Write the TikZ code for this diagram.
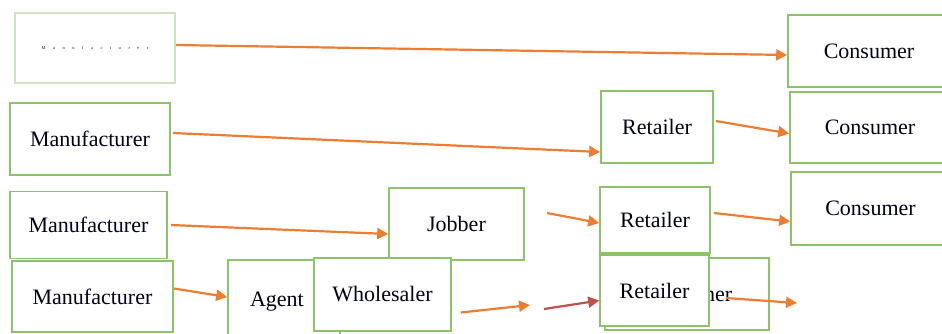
\documentclass[tikz,border=0pt]{standalone}
\usepackage{fontspec}
\setmainfont{Liberation Serif}
\usetikzlibrary{arrows.meta}
\definecolor{boxgreen}{HTML}{8CC26A}
\definecolor{palegreen}{HTML}{CFE4BE}
\definecolor{arrorange}{HTML}{ED7D31}
\definecolor{arrred}{HTML}{C0504D}
\tikzset{
  box/.style={draw=boxgreen, line width=1.6pt, fill=white, inner sep=0pt,
    font=\fontsize{22}{25}\selectfont, text=black!90!blue},
  palebox/.style={box, draw=palegreen},
  flow/.style={draw=arrorange, line width=2.2pt, -{Triangle[length=11pt,width=11pt]}},
  redflow/.style={flow, draw=arrred}
}
\begin{document}
\begin{tikzpicture}[x=1pt,y=-1pt]
\useasboundingbox (0,0) rectangle (942,333);
\clip (0,0) rectangle (942,333);
% row 1
\node[palebox, minimum width=160pt, minimum height=70pt] (m1) at (95,48)
  {\fontsize{4.5}{4.5}\selectfont\color{black!70!red}M\hskip7.5pt a\hskip7.5pt n\hskip7.5pt u\hskip7.5pt f\hskip7.5pt a\hskip7.5pt c\hskip7.5pt t\hskip7.5pt u\hskip7.5pt r\hskip7.5pt e\hskip7.5pt r};
\node[box, minimum width=162pt, minimum height=72pt] (c1) at (869,51) {Consumer};
% row 2
\node[box, minimum width=160pt, minimum height=72pt] (m2) at (90,139) {Manufacturer};
\node[box, minimum width=112pt, minimum height=72pt] (r2) at (657,127) {Retailer};
\node[box, minimum width=160pt, minimum height=71pt] (c2) at (870,127.5) {Consumer};
% row 3
\node[box, minimum width=157pt, minimum height=67pt] (m3) at (88.5,225) {Manufacturer};
\node[box, minimum width=135pt, minimum height=72pt] (jb) at (456.5,224) {Jobber};
\node[box, minimum width=110pt, minimum height=66pt] (r3) at (655,220) {Retailer};
\node[box, minimum width=159pt, minimum height=73pt] (c3) at (870.5,208.5) {Consumer};
% row 4
\node[box, minimum width=161pt, minimum height=71pt] (m4) at (92.5,296.5) {Manufacturer};
\node[box, minimum width=112pt, minimum height=84pt, text width=112pt, align=left] (ag) at (284,302)
  {\hspace*{22pt}Agent};
\node[box, minimum width=137pt, minimum height=73pt] (wh) at (382.5,294.5) {Wholesaler};
\node[box, minimum width=164pt, minimum height=72pt] (c4) at (687,294) {Consumer};
\node[box, minimum width=109pt, minimum height=71pt] (r4) at (654.5,290.5) {Retailer};
% free ends
\coordinate (jbout) at (547,213);
\coordinate (whend) at (530,305);
\coordinate (redstart) at (544,309);
\coordinate (c4end) at (797,303);
% connectors
\draw[flow] ([yshift=3pt]m1.east) -- ([yshift=-4pt]c1.west);
\draw[flow] ([xshift=2pt,yshift=6pt]m2.east) -- ([yshift=-25pt]r2.west);
\draw[flow] ([xshift=2pt,yshift=6pt]r2.east) -- ([yshift=-6pt]c2.west);
\draw[flow] ([xshift=3pt,yshift=0pt]m3.east) -- ([yshift=-10pt]jb.west);
\draw[flow] (jbout) -- ([yshift=-3pt]r3.west);
\draw[flow] ([xshift=3pt,yshift=7pt]r3.east) -- ([yshift=-13pt]c3.west);
\draw[flow] ([yshift=8pt]m4.east) -- (ag.west |- 0,297);
\draw[flow] ([xshift=9pt,yshift=-18pt]wh.east) -- (whend);
\draw[redflow] (redstart) -- ([yshift=-10pt]r4.west);
\draw[flow] ([xshift=-44pt,yshift=-4pt]c4.east) -- (c4end);
\end{tikzpicture}
\end{document}
